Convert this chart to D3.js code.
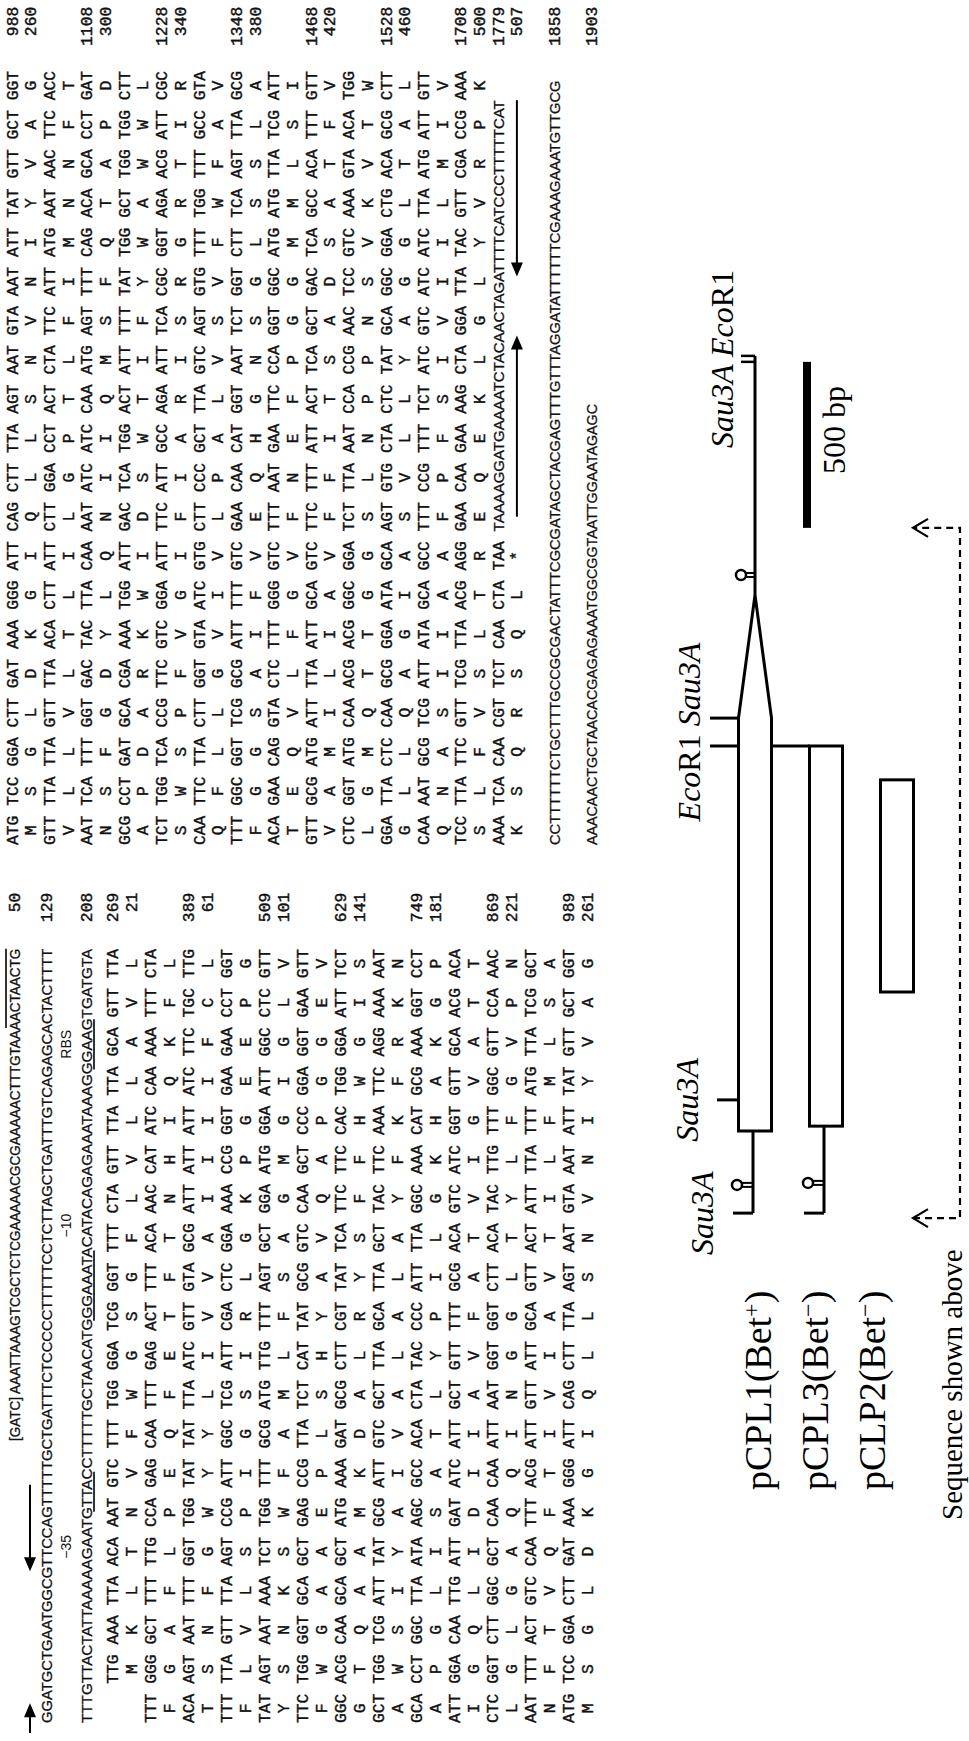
<!DOCTYPE html>
<html>
<head>
<meta charset="utf-8">
<script src="https://cdn.jsdelivr.net/npm/d3@7"></script>
<style>
html, body { margin: 0; padding: 0; background: #fff; }
svg { display: block; }
.mono { font-family: 'Liberation Mono', 'Courier New', monospace; font-size: 16.3px; fill: #111; stroke: #111; stroke-width: 0.4px; }
.narrow { font-family: 'Liberation Sans Narrow', 'Arial Narrow', 'Liberation Sans', sans-serif; font-size: 15px; fill: #111; stroke: #111; stroke-width: 0.3px; }
.lab { font-family: 'Liberation Sans', Arial, sans-serif; font-size: 14px; fill: #111; }
.serif { font-family: 'Liberation Serif', 'Times New Roman', serif; fill: #000; }
</style>
</head>
<body>
<script>
//left column of the sequence (nt 1-989)
var head1 = ["[GATC] AAATTAAAGTCGCTCTCGAAAAACGCGAAAAACTTTGTAAAACTAACTG",
    "GGATGCTGAATGGCGTTCCAGTTTTTGCTGATTTCTCCCCCTTTTTCCTCTTAGCTGATTTGTCAGAGCACTACTTTT",
    "TTTGTTACTATTAAAAAGAATGTTACCTTTTTGCTAACATGGGAAATACATACAGAGAAATAAAGGGAAGTGATGTA"];
var head1Nums = [50, 129, 208];

var codons1 = [
    "TTG AAA TTA ACA AAT GTC TTT TGG GGA TCG GGT TTT CTA GTT TTA TTA GCA GTT TTA",
    "TTT GGG GCT TTT TTG CCA GAG CAA TTT GAG ACT TTT ACA AAC CAT ATC CAA AAA TTT CTA",
    "ACA AGT AAT TTT GGT TGG TAT TAT TTA ATC GTT GTA GCG ATT ATT ATT ATC TTC TGC TTG",
    "TTT TTA GTT TTA AGT CCG ATT GGC TCG ATT CGA CTC GGA AAA CCG GGT GAA GAA CCT GGT",
    "TAT AGT AAT AAA TCT TGG TTT GCG ATG TTG TTT AGT GCT GGA ATG GGA ATT GGC CTC GTT",
    "TTC TGG GGT GCA GCT GAG CCG TTA TCT CAT TAT GCG GTC CAA GCT CCC GGA GGT GAA GTT",
    "GGC ACG CAA GCA GCT ATG AAA GAT GCG CTT CGT TAT TCA TTC TTC CAC TGG GGA ATT TCT",
    "GCT TGG TCG ATT TAT GCG ATT GTC GCT TTA GCA TTA GCT TAC TTC AAA TTC AGG AAA AAT",
    "GCA CCT GGC TTA ATA AGC GCC ACA CTA TAC CCC ATT TTA GGC AAA CAT GCG AAA GGT CCT",
    "ATT GGA CAA TTG ATT GAT ATC ATT GCT GTT TTT GCG ACA GTC ATC GGT GTT GCA ACG ACA",
    "CTC GGT CTT GGC GCT CAA CAA ATT AAT GGT GGT CTT ACA TAC TTG TTT GGC GTT CCA AAC",
    "AAT TTT ACT GTC CAA TTT ACG ATT GTT ATT GCA GTT ACT ATT TTA TTT ATG TTA TCG GCT",
    "ATG TCC GGA CTT GAT AAA GGG ATT CAG CTT TTA AGT AAT GTA AAT ATT TAT GTT GCT GGT"];
var aa1 = ["MKLTNVFWGSGFLVLLAVL", "FGAFLPEQFETFTNHIQKFL", "TSNFGWYYLIVVAIIIIFCL",
    "FLVLSPIGSIRLGKPGEEPG", "YSNKSWFAMLFSAGMGIGLV", "FWGAAEPLSHYAVQAPGGEV",
    "GTQAAMKDALRYSFFHWGIS", "AWSIYAIVALALAYFKFRKN", "APGLISATLYPILGKHAKGP",
    "IGQLIDIIAVFATVIGVATT", "LGLGAQQINGGLTYLFGVPN", "NFTVQFTIVIAVTILFMLSA",
    "MSGLDKGIQLLSNVNIYVAG"];
var codonNums1 = [269, "", 389, "", 509, "", 629, "", 749, "", 869, "", 989];
var aaNums1 = [21, "", 61, "", 101, "", 141, "", 181, "", 221, "", 261];

//right column of the sequence (nt 929-1903)
var codons2 = [
    "ATG TCC GGA CTT GAT AAA GGG ATT CAG CTT TTA AGT AAT GTA AAT ATT TAT GTT GCT GGT",
    "GTT TTA TTA GTT TTA ACA CTT ATT CTT GGA CCT ACT CTA TTC ATT ATG AAT AAC TTC ACC",
    "AAT TCA TTT GGT GAC TAC TTA CAA AAT ATC ATC CAA ATG AGT TTT CAG ACA GCA CCT GAT",
    "GCG CCT GAT GCA CGA AAA TGG ATT GAC TCA TGG ACT ATT TTT TAT TGG GCT TGG TGG CTT",
    "TCT TGG TCA CCG TTC GTC GGA ATT TTC ATT GCC AGA ATT TCA CGC GGT AGA ACG ATT CGC",
    "CAA TTC TTA CTT GGT GTA ATC GTG CTT CCC GCT TTA GTC AGT GTG TTT TGG TTT GCC GTA",
    "TTT GGC GGT TCG GCG ATT TTT GTC GAA CAA CAT GGT AAT TCT GGT CTT TCA AGT TTA GCG",
    "ACA GAA CAG GTA CTC TTT GGG GTC TTT AAT GAA TTC CCA GGT GGC ATG ATG TTA TCG ATT",
    "GTT GCG ATG ATT TTA ATT GCA GTC TTC TTT ATT ACT TCA GCT GAC TCA GCC ACA TTT GTT",
    "CTC GGT ATG CAA ACG ACG GGC GGA TCT TTA AAT CCA CCG AAC TCC GTC AAA GTA ACA TGG",
    "GGA TTA CTC CAA GCG GGA ATA GCA AGT GTG CTA CTC TAT GCA GGC GGA CTG ACA GCG CTT",
    "CAA AAT GCG TCG ATT ATA GCA GCC TTT CCG TTT TCT ATC GTC ATC ATC TTA ATG ATT GTT",
    "TCC TTA TTC GTT TCG TTA ACG AGG GAA CAA GAA AAG CTA GGA TTA TAC GTT CGA CCG AAA",
    "AAA TCA CAA CGT TCT CAA CTA TAA"];
var aa2 = ["MSGLDKGIQLLSNVNIYVAG", "VLLVLTLILGPTLFIMNNFT", "NSFGDYLQNIIQMSFQTAPD",
    "APDARKWIDSWTIFYWAWWL", "SWSPFVGIFIARISRGRTIR", "QFLLGVIVLPALVSVFWFAV",
    "FGGSAIFVEQHGNSGLSSLA", "TEQVLFGVFNEFPGGMMLSI", "VAMILIAVFFITSADSATFV",
    "LGMQTTGGSLNPPNSVKVTW", "GLLQAGIASVLLYAGGLTAL", "QNASIIAAFPFSIVIILMIV",
    "SLFVSLTREQEKLGLYVRPK", "KSQRSQL*"];
var codonNums2 = [988, "", 1108, "", 1228, "", 1348, "", 1468, "", 1528, "", 1708, 1779];
var aaNums2 = [260, "", 300, "", 340, "", 380, "", 420, "", 460, "", 500, 507];
var stopTail = "TAAAAGGATGAAAATCTACAACTAGATTTTCATCCCTTTTTCAT";
var tail2 = ["CCTTTTTTCTGCTTTGCCGCGACTATTTCGCGATAGCTACGAGTTTGTTTAGGATATTTTTTCGAAAGAAATGTTGCG",
    "AAACAACTGCTAACACGAGAGAAATGGCGGTAATTGGAATAGAGC"];
var tailNums2 = [1858, 1903];

//inverted repeats, as [from, to] character positions (arrow head at "to")
var repeatStart = [[-1, 2], [24, 15.3]];
var repeatStop = [[1.5, 20], [44, 26]];

//physical map, positions in bp
var constructs = ["pCPL1(Bet", "pCPL3(Bet", "pCLP2(Bet"];
var constructSign = ["+", "\u2212", "\u2212"];
var barFrom = [331, 346, 750];
var barTo = [1575, 1491, 1389];
var promoterAt = [169, 175];
var sau3aLeft = 84, sau3aMid = 425, ecoLeft = 1491, sau3aIns = 1575;
var loopApex = 1946, terminatorAt = 2006, rightSites = [2648, 2666];
var scaleFrom = 2148, scaleTo = 2648;
var seqShown = [69, 2148];

var width = 969, height = 1741, pitch = 9.8;

var svg = d3.select("body").append("svg")
    .attr("width", width)
    .attr("height", height);
svg.append("rect").attr("width", width).attr("height", height).attr("fill", "#fff");

//the figure is a landscape page turned a quarter turn to the left
var page = svg.append("g")
    .attr("transform", "translate(0," + height + ") rotate(-90)");

function arrow(g, x1, x2, y){
    var d = x2 > x1 ? 1 : -1;
    g.append("line")
        .attr("x1", x1).attr("x2", x2 - d * 10)
        .attr("y1", y).attr("y2", y)
        .attr("stroke", "#000").attr("stroke-width", 2);
    g.append("path")
        .attr("d", "M" + x2 + "," + y + "L" + (x2 - d * 14) + "," + (y - 6) + "L" + (x2 - d * 14) + "," + (y + 6) + "Z")
        .attr("fill", "#000");
};

//codon rows with translation underneath
function drawBlock(g, codons, aas, cNums, aNums, x0, numEnd, rowY, firstRight){
    var col = d3.scaleLinear().domain([0, 79]).range([x0, x0 + 79 * pitch]);
    codons.forEach(function(row, r){
        var list = row.split(" ");
        var off = (firstRight && r == 0) ? 20 - list.length : 0;
        var yc = rowY(2 * r), ya = rowY(2 * r + 1);
        g.selectAll(null).data(list).enter().append("text")
            .attr("class", "mono")
            .attr("x", function(d, i){ return col(4 * (i + off)); })
            .attr("y", yc + 5.5)
            .text(function(d){ return d; });
        g.selectAll(null).data(aas[r].split("")).enter().append("text")
            .attr("class", "mono")
            .attr("text-anchor", "middle")
            .attr("x", function(d, i){ return col(4 * (i + off) + 1.5); })
            .attr("y", ya + 5.5)
            .text(function(d){ return d; });
        g.append("text").attr("class", "mono").attr("text-anchor", "end")
            .attr("x", numEnd).attr("y", yc + 5.5).text(cNums[r]);
        g.append("text").attr("class", "mono").attr("text-anchor", "end")
            .attr("x", numEnd).attr("y", ya + 5.5).text(aNums[r]);
    });
    return col;
};

//left column
var left = page.append("g");
var x0L = 18, numEndL = x0L + 79 * pitch + 56;
var headY = [14, 46, 86], labelY = 66, repeatY = 30;
var rowY1 = d3.scaleLinear().domain([0, 1]).range([112, 131]);
var colL = drawBlock(left, codons1, aa1, codonNums1, aaNums1, x0L, numEndL, rowY1, true);

var headStart = [300, x0L, x0L];
head1.forEach(function(s, i){
    var len = colL(79) - headStart[i];
    left.append("text").attr("class", "narrow")
        .attr("x", headStart[i]).attr("y", headY[i] + 5.5)
        .attr("textLength", len).attr("lengthAdjust", "spacingAndGlyphs")
        .text(s);
    left.append("text").attr("class", "mono").attr("text-anchor", "end")
        .attr("x", numEndL).attr("y", headY[i] + 5.5).text(head1Nums[i]);
});

function span(i, motifAt, n){
    var s = head1[i], x = headStart[i], k = (colL(79) - x) / s.length;
    return [x + motifAt * k, x + (motifAt + n) * k];
};
//overline at the end of the first line
var ov = span(0, head1[0].length - 9, 9);
left.append("line").attr("x1", ov[0]).attr("x2", ov[1])
    .attr("y1", headY[0] - 8).attr("y2", headY[0] - 8)
    .attr("stroke", "#000").attr("stroke-width", 1.6);

//promoter and ribosome binding site
var boxes = [
    {motif: "GTTA", at: head1[2].indexOf("AATGTTACC") + 3, label: "\u221235", shift: -55},
    {motif: "GGGAAAT", at: head1[2].indexOf("GGGAAAT"), label: "\u221210", shift: 60},
    {motif: "GGAAG", at: head1[2].lastIndexOf("GGAAG"), label: "RBS", shift: 0}];
boxes.forEach(function(b){
    var sp = span(2, b.at, b.motif.length);
    left.append("line").attr("x1", sp[0]).attr("x2", sp[1])
        .attr("y1", headY[2] + 8).attr("y2", headY[2] + 8)
        .attr("stroke", "#000").attr("stroke-width", 1.6);
    left.append("text").attr("class", "lab").attr("text-anchor", "middle")
        .attr("x", (sp[0] + sp[1]) / 2 + b.shift).attr("y", labelY + 5)
        .text(b.label);
});
repeatStart.forEach(function(a){
    var sp = span(1, a[0], a[1] - a[0]);
    arrow(left, sp[0], sp[1], repeatY);
});

//right column
var right = page.append("g");
var x0R = 896, numEndR = x0R + 79 * pitch + 64;
var rowY2 = d3.scaleLinear().domain([0, 1]).range([12, 30.7]);
var colR = drawBlock(right, codons2, aa2, codonNums2, aaNums2, x0R, numEndR, rowY2, false);

var lastRow = codons2.length - 1;
var tailX = colR(4 * codons2[lastRow].split(" ").length);
var tailLen = stopTail.length * pitch;
right.append("text").attr("class", "narrow")
    .attr("x", tailX).attr("y", rowY2(2 * lastRow) + 5.5)
    .attr("textLength", tailLen).attr("lengthAdjust", "spacingAndGlyphs")
    .text(stopTail);
repeatStop.forEach(function(a){
    arrow(right, tailX + a[0] * pitch, tailX + a[1] * pitch, rowY2(2 * lastRow + 1));
});
tail2.forEach(function(s, i){
    var yy = rowY2(29 + 2 * i);
    right.append("text").attr("class", "narrow")
        .attr("x", x0R).attr("y", yy + 5.5)
        .attr("textLength", s.length * pitch).attr("lengthAdjust", "spacingAndGlyphs")
        .text(s);
    right.append("text").attr("class", "mono").attr("text-anchor", "end")
        .attr("x", numEndR).attr("y", yy + 5.5).text(tailNums2[i]);
});

//physical map
var map = page.append("g")
    .attr("fill", "none")
    .attr("stroke", "#000")
    .attr("stroke-width", 3);
var x = d3.scaleLinear().domain([0, 3000]).range([500, 1496]);
var lane = d3.scaleLinear().domain([0, 2]).range([755, 897]);
var half = 16.5;

//pCPL1 with the stem loop insert
var t1 = lane(0) - half, b1 = lane(0) + half;
map.append("path").attr("d",
    "M" + x(barFrom[0]) + "," + t1 + "H" + x(barTo[0]) +
    "L" + x(loopApex) + "," + lane(0) +
    "L" + x(barTo[0]) + "," + b1 + "H" + x(barFrom[0]) + "Z");
map.append("line").attr("x1", x(loopApex)).attr("x2", x(rightSites[1]))
    .attr("y1", lane(0)).attr("y2", lane(0));
//pCPL3 and pCLP2
[1, 2].forEach(function(i){
    map.append("rect")
        .attr("x", x(barFrom[i])).attr("width", x(barTo[i]) - x(barFrom[i]))
        .attr("y", lane(i) - half).attr("height", 2 * half);
});

//left ends with promoter
promoterAt.forEach(function(p, i){
    var yy = lane(i) - 2;
    map.append("line").attr("x1", x(sau3aLeft)).attr("x2", x(barFrom[i]))
        .attr("y1", yy).attr("y2", yy);
    map.append("line").attr("x1", x(sau3aLeft)).attr("x2", x(sau3aLeft))
        .attr("y1", yy).attr("y2", yy - 20);
    map.append("line").attr("x1", x(p) - 2).attr("x2", x(p) - 2)
        .attr("y1", yy).attr("y2", yy - 11).attr("stroke-width", 2);
    map.append("line").attr("x1", x(p) + 2).attr("x2", x(p) + 2)
        .attr("y1", yy).attr("y2", yy - 11).attr("stroke-width", 2);
    map.append("circle").attr("cx", x(p)).attr("cy", yy - 16).attr("r", 5).attr("stroke-width", 2.5);
});

//restriction sites
map.append("line").attr("x1", x(sau3aMid)).attr("x2", x(sau3aMid)).attr("y1", 717).attr("y2", t1);
map.append("line").attr("x1", x(ecoLeft)).attr("x2", x(ecoLeft)).attr("y1", 710).attr("y2", t1);
map.append("line").attr("x1", x(ecoLeft)).attr("x2", x(ecoLeft)).attr("y1", b1).attr("y2", lane(1) - half);
map.append("line").attr("x1", x(sau3aIns)).attr("x2", x(sau3aIns)).attr("y1", 710).attr("y2", t1);
rightSites.forEach(function(s){
    map.append("line").attr("x1", x(s)).attr("x2", x(s))
        .attr("y1", 741).attr("y2", lane(0)).attr("stroke-width", 2.5);
});
//terminator
map.append("line").attr("x1", x(terminatorAt) - 2).attr("x2", x(terminatorAt) - 2)
    .attr("y1", lane(0)).attr("y2", lane(0) - 9).attr("stroke-width", 2);
map.append("line").attr("x1", x(terminatorAt) + 2).attr("x2", x(terminatorAt) + 2)
    .attr("y1", lane(0)).attr("y2", lane(0) - 9).attr("stroke-width", 2);
map.append("circle").attr("cx", x(terminatorAt)).attr("cy", lane(0) - 14).attr("r", 5).attr("stroke-width", 2.5);

//scale bar
map.append("rect").attr("x", x(scaleFrom)).attr("width", x(scaleTo) - x(scaleFrom))
    .attr("y", 803).attr("height", 8).attr("fill", "#000").attr("stroke", "none");

//sequence shown above
var dashY = 960, tipY = 913;
map.append("path")
    .attr("d", "M" + x(seqShown[0]) + "," + tipY + "V" + dashY + "H" + x(seqShown[1]) + "V" + tipY)
    .attr("stroke-width", 2.2).attr("stroke-dasharray", "7,5");
seqShown.forEach(function(s){
    map.append("path")
        .attr("d", "M" + (x(s) - 9) + "," + (tipY + 15) + "L" + x(s) + "," + tipY + "L" + (x(s) + 9) + "," + (tipY + 15))
        .attr("stroke-width", 2.2);
});

//map labels
var labels = page.append("g").attr("class", "serif");
function site(xc, yb, parts){
    var t = labels.append("text").attr("x", xc).attr("y", yb)
        .attr("text-anchor", "middle").style("font-size", "32px");
    parts.forEach(function(p){
        t.append("tspan").style("font-style", p[1] ? "italic" : "normal").text(p[0]);
    });
};
site(x(sau3aLeft), 713, [["Sau3A", true]]);
site(x(sau3aMid), 698, [["Sau3A", true]]);
site((x(ecoLeft) + x(sau3aIns)) / 2, 700, [["Eco", true], ["R1 ", false], ["Sau3A", true]]);
site((x(rightSites[0]) + x(rightSites[1])) / 2, 733, [["Sau3A ", true], ["Eco", true], ["R1", false]]);
labels.append("text").attr("x", (x(scaleFrom) + x(scaleTo)) / 2 + 15).attr("y", 845)
    .attr("text-anchor", "middle").style("font-size", "32px").text("500 bp");

var nameY = d3.scaleLinear().domain([0, 2]).range([771, 885]);
constructs.forEach(function(c, i){
    var t = labels.append("text").attr("x", 251).attr("y", nameY(i)).style("font-size", "38px");
    t.append("tspan").text(c);
    t.append("tspan").attr("dy", -12).style("font-size", "24px").text(constructSign[i]);
    t.append("tspan").attr("dy", 12).text(")");
});
labels.append("text").attr("x", 221).attr("y", 962).style("font-size", "29px")
    .text("Sequence shown above");
</script>
</body>
</html>
